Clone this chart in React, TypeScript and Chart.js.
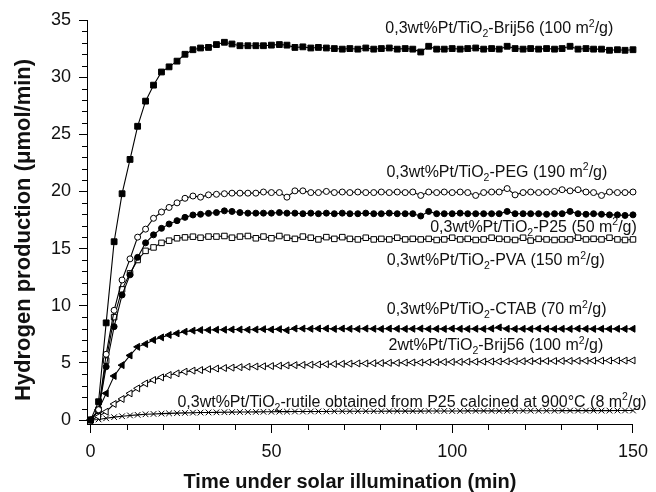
import React, { useEffect, useRef } from "react";
import { Chart, registerables } from "chart.js";

Chart.register(...registerables);

// Sampling times (min)
const times = [
  0, 2.2, 4.3, 6.5, 8.7, 10.9, 13.0, 15.2, 17.4, 19.6,
  21.7, 23.9, 26.1, 28.3, 30.4, 32.6, 34.8, 37.0, 39.1, 41.3,
  43.5, 45.7, 47.8, 50.0, 52.2, 54.3, 56.5, 58.7, 60.9, 63.0,
  65.2, 67.4, 69.6, 71.7, 73.9, 76.1, 78.3, 80.4, 82.6, 84.8,
  87.0, 89.1, 91.3, 93.5, 95.7, 97.8, 100.0, 102.2, 104.3, 106.5,
  108.7, 110.9, 113.0, 115.2, 117.4, 119.6, 121.7, 123.9, 126.1, 128.3,
  130.4, 132.6, 134.8, 137.0, 139.1, 141.3, 143.5, 145.7, 147.8, 150.0,
];

// Hydrogen production rates (µmol/min)
const brij56_100 = [
  0, 1.6, 8.5, 15.6, 19.8, 22.8, 25.7, 27.9, 29.3, 30.45,
  30.9, 31.4, 32.0, 32.4, 32.55, 32.6, 32.85, 33.05, 32.9, 32.75,
  32.75, 32.75, 32.75, 32.8, 32.85, 32.8, 32.6, 32.65, 32.55, 32.6,
  32.55, 32.5, 32.45, 32.5, 32.45, 32.55, 32.45, 32.5, 32.55, 32.45,
  32.5, 32.45, 32.2, 32.7, 32.45, 32.45, 32.5, 32.45, 32.5, 32.55,
  32.45, 32.5, 32.45, 32.7, 32.5, 32.45, 32.5, 32.45, 32.5, 32.45,
  32.5, 32.7, 32.45, 32.5, 32.45, 32.45, 32.35, 32.4, 32.35, 32.4,
];
const peg190 = [
  0, 0.9, 5.75, 9.6, 12.25, 14.1, 16.0, 16.7, 17.65, 18.2,
  18.6, 19.0, 19.4, 19.6, 19.5, 19.7, 19.75, 19.8, 19.85, 19.85,
  19.85, 19.85, 19.95, 19.9, 19.9, 19.5, 20.05, 20.05, 19.9, 19.9,
  20.0, 19.9, 19.95, 19.9, 19.95, 19.9, 19.9, 19.95, 19.9, 19.95,
  19.9, 19.95, 19.65, 19.95, 19.9, 19.95, 19.9, 19.95, 19.9, 19.65,
  19.9, 19.95, 19.95, 20.25, 19.7, 19.9, 19.95, 19.9, 19.95, 20.0,
  20.15, 20.05, 20.15, 19.95, 19.9, 19.65, 19.95, 19.9, 19.9, 19.95,
];
const p25_50 = [
  0, 0.8, 4.66, 8.17, 10.94, 12.7, 14.23, 15.5, 16.2, 16.77,
  17.15, 17.44, 17.73, 17.94, 18.0, 18.08, 18.15, 18.3, 18.25, 18.15,
  18.1, 18.1, 18.1, 18.1, 18.15, 18.1, 18.1, 18.05, 18.1, 18.05,
  18.1, 18.05, 18.1, 18.05, 18.05, 18.1, 18.05, 18.05, 18.1, 18.05,
  18.05, 18.05, 17.85, 18.25, 18.05, 18.05, 18.05, 18.1, 18.05, 18.05,
  18.05, 18.05, 18.05, 18.25, 18.05, 18.05, 18.05, 18.05, 18.0, 18.05,
  18.05, 18.25, 18.05, 18.0, 18.05, 18.0, 17.95, 17.95, 17.9, 17.95,
];
const pva150 = [
  0, 0.9, 5.2, 9.0, 11.43, 12.83, 14.0, 14.8, 15.1, 15.5,
  15.69, 15.9, 15.98, 16.04, 15.95, 16.05, 16.05, 16.1, 15.95, 16.05,
  16.1, 15.9, 16.05, 15.9, 16.1, 15.95, 15.85, 16.05, 15.95, 15.8,
  16.0, 15.85, 16.0, 15.85, 15.8, 15.95, 15.8, 15.85, 15.8, 15.95,
  15.8, 15.85, 15.8, 15.85, 15.75, 15.8, 15.95, 15.8, 15.85, 15.75,
  15.8, 15.95, 15.85, 15.8, 15.75, 15.95, 15.7, 15.85, 15.8, 15.75,
  15.8, 15.8, 15.95, 15.8, 15.85, 15.8, 15.95, 15.8, 15.75, 15.8,
];
const ctab70 = [
  0, 0.9, 2.33, 3.85, 4.8, 5.65, 6.4, 6.65, 7.0, 7.23,
  7.44, 7.58, 7.73, 7.82, 7.87, 7.87, 7.9, 7.9, 7.92, 7.92,
  7.9, 7.92, 7.95, 7.92, 7.95, 7.85, 8.0, 8.0, 7.98, 8.0,
  8.0, 7.97, 8.0, 7.98, 7.97, 8.0, 7.98, 7.97, 8.0, 7.98,
  7.97, 7.98, 8.0, 7.97, 7.98, 7.97, 8.0, 7.98, 7.97, 7.98,
  7.97, 8.0, 8.1, 7.98, 7.97, 7.98, 7.97, 8.0, 7.98, 7.97,
  7.98, 7.97, 8.0, 7.98, 7.97, 7.98, 7.97, 7.98, 7.97, 7.98,
];
const brij56_2wt = [
  0, 0.3, 0.73, 1.4, 1.84, 2.33, 2.77, 3.2, 3.5, 3.73,
  3.94, 4.08, 4.23, 4.32, 4.37, 4.45, 4.5, 4.55, 4.58, 4.62,
  4.66, 4.68, 4.7, 4.72, 4.75, 4.78, 4.8, 4.82, 4.84, 4.86,
  4.88, 4.9, 4.91, 4.93, 4.95, 4.95, 4.97, 4.98, 5.0, 5.0,
  5.02, 5.03, 5.03, 5.05, 5.06, 5.07, 5.08, 5.08, 5.1, 5.1,
  5.11, 5.12, 5.12, 5.13, 5.14, 5.14, 5.15, 5.15, 5.16, 5.16,
  5.17, 5.17, 5.18, 5.18, 5.19, 5.19, 5.2, 5.2, 5.2, 5.21,
];
const rutile8 = [
  0, 0.05, 0.15, 0.25, 0.33, 0.4, 0.45, 0.5, 0.53, 0.56,
  0.58, 0.6, 0.62, 0.64, 0.65, 0.66, 0.67, 0.68, 0.69, 0.7,
  0.7, 0.71, 0.72, 0.72, 0.73, 0.73, 0.74, 0.74, 0.75, 0.75,
  0.75, 0.76, 0.76, 0.76, 0.77, 0.77, 0.77, 0.77, 0.78, 0.78,
  0.78, 0.78, 0.78, 0.79, 0.79, 0.79, 0.79, 0.79, 0.8, 0.8,
  0.8, 0.8, 0.8, 0.8, 0.81, 0.81, 0.81, 0.81, 0.81, 0.81,
  0.82, 0.82, 0.82, 0.82, 0.82, 0.82, 0.82, 0.83, 0.83, 0.83,
];

// Axis ticks and titles
const xTickValues = [0, 50, 100, 150];
const yTickValues = [0, 5, 10, 15, 20, 25, 30, 35];
const xMinorStep = 10;
const yMinorStep = 1;
const xTitle = "Time under solar illumination (min)";
const yTitle = "Hydrogen production (\u03bcmol/min)";

// Curve annotations (anchored in data units: left edge, text baseline)
// "_{...}" is a subscript, "^{...}" a superscript
const curveLabels = [
  { text: "0,3wt%Pt/TiO_{2}-Brij56 (100 m^{2}/g)", x: 81.5, y: 33.86 },
  { text: "0,3wt%Pt/TiO_{2}-PEG (190 m^{2}/g)", x: 81.8, y: 21.29 },
  { text: "0,3wt%Pt/TiO_{2}-P25 (50 m^{2}/g)", x: 93.9, y: 16.47 },
  { text: "0,3wt%Pt/TiO_{2}-PVA (150 m^{2}/g)", x: 81.9, y: 13.56 },
  { text: "0,3wt%Pt/TiO_{2}-CTAB (70 m^{2}/g)", x: 81.9, y: 9.27 },
  { text: "2wt%Pt/TiO_{2}-Brij56 (100 m^{2}/g)", x: 82.4, y: 6.12 },
  { text: "0,3wt%Pt/TiO_{2}-rutile obtained from P25 calcined at 900°C (8 m^{2}/g)", x: 24.0, y: 1.16 },
];

const FONT = "'Liberation Sans', Arial, Helvetica, sans-serif";
const INK = "#111";

function splitRich(text: string) {
  const parts: { s: string; mode: "n" | "sub" | "sup" }[] = [];
  const re = /(_\{[^}]*\}|\^\{[^}]*\})/g;
  let last = 0;
  let m: RegExpExecArray | null;
  while ((m = re.exec(text))) {
    if (m.index > last) parts.push({ s: text.slice(last, m.index), mode: "n" });
    parts.push({ s: m[0].slice(2, -1), mode: m[0][0] === "_" ? "sub" : "sup" });
    last = m.index + m[0].length;
  }
  if (last < text.length) parts.push({ s: text.slice(last), mode: "n" });
  return parts;
}

const curveLabelPlugin = {
  id: "curveLabels",
  afterDatasetsDraw(chart: any) {
    const { ctx, scales } = chart;
    const size = 16;
    const small = 10.5;
    ctx.save();
    ctx.fillStyle = INK;
    ctx.textBaseline = "alphabetic";
    ctx.textAlign = "left";
    for (const lab of curveLabels) {
      let px = scales.x.getPixelForValue(lab.x);
      const py = scales.y.getPixelForValue(lab.y);
      for (const part of splitRich(lab.text)) {
        if (part.mode === "n") {
          ctx.font = `${size}px ${FONT}`;
          ctx.fillText(part.s, px, py);
        } else {
          ctx.font = `${small}px ${FONT}`;
          ctx.fillText(part.s, px, part.mode === "sub" ? py + 4 : py - 6.5);
        }
        px += ctx.measureText(part.s).width;
      }
    }
    ctx.restore();
  },
};

// Minor tick marks plus the two axis titles
const axisDecorPlugin = {
  id: "axisDecor",
  afterDraw(chart: any) {
    const { ctx, scales, chartArea } = chart;
    const xs = scales.x;
    const ys = scales.y;
    ctx.save();
    ctx.strokeStyle = "#000";
    ctx.lineWidth = 1;
    ctx.beginPath();
    const yMax = yTickValues[yTickValues.length - 1];
    for (let v = yTickValues[0]; v <= yMax; v += yMinorStep) {
      if (yTickValues.includes(v)) continue;
      const p = Math.round(ys.getPixelForValue(v)) + 0.5;
      ctx.moveTo(chartArea.left, p);
      ctx.lineTo(chartArea.left - 5, p);
    }
    const xMax = xTickValues[xTickValues.length - 1];
    for (let v = xTickValues[0]; v <= xMax; v += xMinorStep) {
      if (xTickValues.includes(v)) continue;
      const p = Math.round(xs.getPixelForValue(v)) + 0.5;
      ctx.moveTo(p, chartArea.bottom);
      ctx.lineTo(p, chartArea.bottom + 6);
    }
    ctx.stroke();

    ctx.fillStyle = INK;
    ctx.textAlign = "center";
    ctx.textBaseline = "alphabetic";
    ctx.font = `bold 20px ${FONT}`;
    ctx.fillText(xTitle, (chartArea.left + chartArea.right) / 2 - 10, chart.height - 4.5);

    ctx.font = `bold 22px ${FONT}`;
    ctx.translate(30, (chartArea.top + chartArea.bottom) / 2 + 8);
    ctx.rotate(-Math.PI / 2);
    ctx.fillText(yTitle, 0, 0);
    ctx.restore();
  },
};

type SeriesDef = {
  label: string;
  values: number[];
  style: string;
  filled: boolean;
  radius: number;
  rotation?: number;
};

const seriesDefs: SeriesDef[] = [
  { label: "0,3wt%Pt/TiO2-Brij56 (100 m2/g)", values: brij56_100, style: "rect", filled: true, radius: 4.1 },
  { label: "0,3wt%Pt/TiO2-PEG (190 m2/g)", values: peg190, style: "circle", filled: false, radius: 3 },
  { label: "0,3wt%Pt/TiO2-P25 (50 m2/g)", values: p25_50, style: "circle", filled: true, radius: 3 },
  { label: "0,3wt%Pt/TiO2-PVA (150 m2/g)", values: pva150, style: "rect", filled: false, radius: 3.9 },
  { label: "0,3wt%Pt/TiO2-CTAB (70 m2/g)", values: ctab70, style: "triangle", filled: true, radius: 4, rotation: -90 },
  { label: "2wt%Pt/TiO2-Brij56 (100 m2/g)", values: brij56_2wt, style: "triangle", filled: false, radius: 4, rotation: -90 },
  { label: "0,3wt%Pt/TiO2-rutile (8 m2/g)", values: rutile8, style: "crossRot", filled: false, radius: 4 },
];

export default function App() {
  const canvasRef = useRef<HTMLCanvasElement | null>(null);

  useEffect(() => {
    if (!canvasRef.current) return;
    const datasets = seriesDefs.map((d) => ({
      label: d.label,
      data: times.map((t, i) => ({ x: t, y: d.values[i] })),
      borderColor: "#000",
      borderWidth: 1.1,
      backgroundColor: d.filled ? "#000" : "#fff",
      pointStyle: d.style,
      pointRadius: d.radius,
      pointRotation: d.rotation ?? 0,
      pointBorderColor: "#000",
      pointBackgroundColor: d.filled ? "#000" : "#fff",
      pointBorderWidth: 1,
      tension: 0,
      fill: false,
      clip: false as const,
    }));

    const chart = new Chart(canvasRef.current, {
      type: "line",
      data: { datasets },
      plugins: [curveLabelPlugin, axisDecorPlugin],
      options: {
        animation: false,
        responsive: false,
        devicePixelRatio: 1,
        layout: { padding: { left: 0, right: 18.7, top: 20, bottom: 0 } },
        plugins: {
          legend: { display: false },
          tooltip: { enabled: false },
          title: { display: false },
        },
        scales: {
          x: {
            type: "linear",
            min: -1,
            max: 150,
            afterBuildTicks: (scale: any) => {
              scale.ticks = xTickValues.map((v) => ({ value: v }));
            },
            afterFit: (scale: any) => {
              scale.height = 68;
            },
            grid: {
              display: true,
              drawOnChartArea: false,
              drawTicks: true,
              tickLength: 9,
              color: "#000",
              lineWidth: 1,
            },
            border: { display: true, color: "#000", width: 1 },
            ticks: {
              color: INK,
              font: { family: FONT, size: 18 },
              padding: 8,
              maxRotation: 0,
              autoSkip: false,
            },
            title: { display: false },
          },
          y: {
            type: "linear",
            min: -0.35,
            max: 35,
            afterBuildTicks: (scale: any) => {
              scale.ticks = yTickValues.map((v) => ({ value: v }));
            },
            afterFit: (scale: any) => {
              scale.width = 87;
            },
            grid: {
              display: true,
              drawOnChartArea: false,
              drawTicks: true,
              tickLength: 8,
              color: "#000",
              lineWidth: 1,
            },
            border: { display: true, color: "#000", width: 1 },
            ticks: {
              color: INK,
              font: { family: FONT, size: 18 },
              padding: 8,
              autoSkip: false,
            },
            title: { display: false },
          },
        },
      },
    } as any);

    return () => chart.destroy();
  }, []);

  return (
    <div style={{ position: "absolute", left: 0, top: 0, width: 656, height: 492, background: "#fff" }}>
      <canvas ref={canvasRef} width={656} height={492} style={{ display: "block" }} />
    </div>
  );
}
